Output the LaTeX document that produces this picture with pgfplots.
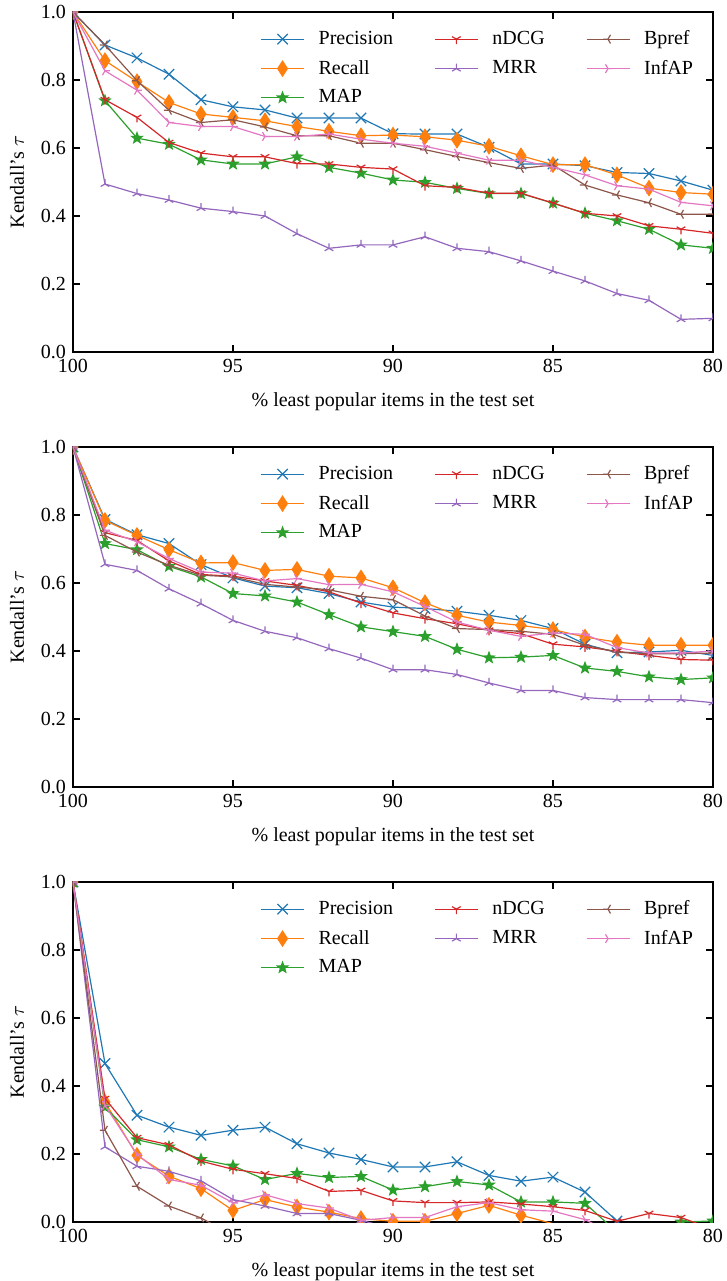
\documentclass[border=0pt]{standalone}
\usepackage{fontspec}
\setmainfont{Liberation Serif}
\usepackage{pgfplots}
\pgfplotsset{compat=1.18}
\usepackage{pgfplotstable}

\definecolor{c0}{HTML}{1F77B4}
\definecolor{c1}{HTML}{FF7F0E}
\definecolor{c2}{HTML}{2CA02C}
\definecolor{c3}{HTML}{D62728}
\definecolor{c4}{HTML}{9467BD}
\definecolor{c5}{HTML}{8C564B}
\definecolor{c6}{HTML}{E377C2}

\pgfdeclareplotmark{mx}{%
  \pgfpathmoveto{\pgfqpoint{-\pgfplotmarksize}{-\pgfplotmarksize}}%
  \pgfpathlineto{\pgfqpoint{\pgfplotmarksize}{\pgfplotmarksize}}%
  \pgfpathmoveto{\pgfqpoint{-\pgfplotmarksize}{\pgfplotmarksize}}%
  \pgfpathlineto{\pgfqpoint{\pgfplotmarksize}{-\pgfplotmarksize}}%
  \pgfusepathqstroke}
\pgfdeclareplotmark{tdia}{%
  \pgfpathmoveto{\pgfqpoint{0pt}{\pgfplotmarksize}}%
  \pgfpathlineto{\pgfqpoint{0.65\pgfplotmarksize}{0pt}}%
  \pgfpathlineto{\pgfqpoint{0pt}{-\pgfplotmarksize}}%
  \pgfpathlineto{\pgfqpoint{-0.65\pgfplotmarksize}{0pt}}%
  \pgfpathclose\pgfusepathqfillstroke}
\pgfdeclareplotmark{fstar}{%
  \pgfpathmoveto{\pgfqpoint{0pt}{\pgfplotmarksize}}%
  \pgfpathlineto{\pgfqpoint{-0.247\pgfplotmarksize}{0.340\pgfplotmarksize}}%
  \pgfpathlineto{\pgfqpoint{-0.951\pgfplotmarksize}{0.309\pgfplotmarksize}}%
  \pgfpathlineto{\pgfqpoint{-0.399\pgfplotmarksize}{-0.130\pgfplotmarksize}}%
  \pgfpathlineto{\pgfqpoint{-0.588\pgfplotmarksize}{-0.809\pgfplotmarksize}}%
  \pgfpathlineto{\pgfqpoint{0pt}{-0.42\pgfplotmarksize}}%
  \pgfpathlineto{\pgfqpoint{0.588\pgfplotmarksize}{-0.809\pgfplotmarksize}}%
  \pgfpathlineto{\pgfqpoint{0.399\pgfplotmarksize}{-0.130\pgfplotmarksize}}%
  \pgfpathlineto{\pgfqpoint{0.951\pgfplotmarksize}{0.309\pgfplotmarksize}}%
  \pgfpathlineto{\pgfqpoint{0.247\pgfplotmarksize}{0.340\pgfplotmarksize}}%
  \pgfpathclose\pgfusepathqfillstroke}
\pgfdeclareplotmark{tridown}{%
  \pgfpathmoveto{\pgfqpoint{0pt}{0pt}}\pgfpathlineto{\pgfqpoint{0pt}{-\pgfplotmarksize}}%
  \pgfpathmoveto{\pgfqpoint{0pt}{0pt}}\pgfpathlineto{\pgfqpoint{0.866\pgfplotmarksize}{0.5\pgfplotmarksize}}%
  \pgfpathmoveto{\pgfqpoint{0pt}{0pt}}\pgfpathlineto{\pgfqpoint{-0.866\pgfplotmarksize}{0.5\pgfplotmarksize}}%
  \pgfusepathqstroke}
\pgfdeclareplotmark{triup}{%
  \pgfpathmoveto{\pgfqpoint{0pt}{0pt}}\pgfpathlineto{\pgfqpoint{0pt}{\pgfplotmarksize}}%
  \pgfpathmoveto{\pgfqpoint{0pt}{0pt}}\pgfpathlineto{\pgfqpoint{0.866\pgfplotmarksize}{-0.5\pgfplotmarksize}}%
  \pgfpathmoveto{\pgfqpoint{0pt}{0pt}}\pgfpathlineto{\pgfqpoint{-0.866\pgfplotmarksize}{-0.5\pgfplotmarksize}}%
  \pgfusepathqstroke}
\pgfdeclareplotmark{trileft}{%
  \pgfpathmoveto{\pgfqpoint{0pt}{0pt}}\pgfpathlineto{\pgfqpoint{-\pgfplotmarksize}{0pt}}%
  \pgfpathmoveto{\pgfqpoint{0pt}{0pt}}\pgfpathlineto{\pgfqpoint{0.5\pgfplotmarksize}{0.866\pgfplotmarksize}}%
  \pgfpathmoveto{\pgfqpoint{0pt}{0pt}}\pgfpathlineto{\pgfqpoint{0.5\pgfplotmarksize}{-0.866\pgfplotmarksize}}%
  \pgfusepathqstroke}
\pgfdeclareplotmark{triright}{%
  \pgfpathmoveto{\pgfqpoint{0pt}{0pt}}\pgfpathlineto{\pgfqpoint{\pgfplotmarksize}{0pt}}%
  \pgfpathmoveto{\pgfqpoint{0pt}{0pt}}\pgfpathlineto{\pgfqpoint{-0.5\pgfplotmarksize}{0.866\pgfplotmarksize}}%
  \pgfpathmoveto{\pgfqpoint{0pt}{0pt}}\pgfpathlineto{\pgfqpoint{-0.5\pgfplotmarksize}{-0.866\pgfplotmarksize}}%
  \pgfusepathqstroke}

\pgfplotstableread{
x   P     R     M     N     Q     B     I
100 1.000 1.000 1.000 1.000 1.000 1.000 1.000
99  0.903 0.857 0.739 0.742 0.494 0.903 0.827
98  0.865 0.795 0.629 0.690 0.466 0.798 0.770
97  0.817 0.734 0.611 0.616 0.447 0.711 0.675
96  0.742 0.700 0.565 0.585 0.423 0.675 0.663
95  0.721 0.690 0.553 0.574 0.413 0.683 0.663
94  0.712 0.680 0.553 0.574 0.400 0.662 0.634
93  0.688 0.663 0.574 0.554 0.348 0.636 0.634
92  0.688 0.649 0.543 0.553 0.305 0.636 0.641
91  0.688 0.636 0.526 0.543 0.315 0.614 0.626
90  0.642 0.638 0.506 0.538 0.315 0.614 0.614
89  0.641 0.633 0.499 0.489 0.339 0.595 0.605
88  0.641 0.623 0.481 0.484 0.305 0.575 0.585
87  0.602 0.605 0.466 0.467 0.295 0.557 0.564
86  0.553 0.577 0.466 0.467 0.268 0.540 0.564
85  0.553 0.551 0.438 0.438 0.238 0.550 0.543
84  0.548 0.551 0.408 0.408 0.209 0.491 0.521
83  0.528 0.521 0.386 0.400 0.172 0.462 0.489
82  0.525 0.482 0.361 0.371 0.152 0.439 0.479
81  0.503 0.469 0.315 0.361 0.096 0.405 0.440
80  0.476 0.464 0.305 0.349 0.099 0.405 0.430
}\tabA

\pgfplotstableread{
x   P     R     M     N     Q     B     I
100 1.000 1.000 1.000 1.000 1.000 1.000 1.000
99  0.787 0.784 0.716 0.748 0.655 0.740 0.755
98  0.742 0.740 0.698 0.725 0.637 0.691 0.721
97  0.716 0.698 0.649 0.665 0.583 0.652 0.672
96  0.654 0.659 0.618 0.625 0.539 0.623 0.632
95  0.615 0.660 0.569 0.620 0.490 0.618 0.629
94  0.591 0.637 0.562 0.606 0.458 0.596 0.606
93  0.586 0.640 0.544 0.593 0.439 0.588 0.613
92  0.569 0.620 0.507 0.574 0.407 0.580 0.595
91  0.544 0.615 0.471 0.541 0.379 0.561 0.596
90  0.529 0.586 0.457 0.512 0.345 0.551 0.574
89  0.525 0.542 0.443 0.495 0.345 0.503 0.531
88  0.517 0.505 0.405 0.480 0.331 0.466 0.485
87  0.505 0.485 0.380 0.461 0.306 0.463 0.461
86  0.490 0.475 0.382 0.451 0.284 0.458 0.443
85  0.466 0.463 0.387 0.420 0.284 0.449 0.453
84  0.420 0.441 0.350 0.412 0.263 0.417 0.449
83  0.395 0.426 0.340 0.399 0.257 0.397 0.410
82  0.397 0.417 0.324 0.387 0.257 0.392 0.394
81  0.402 0.417 0.316 0.375 0.257 0.392 0.394
80  0.387 0.417 0.321 0.373 0.248 0.394 0.400
}\tabB

\pgfplotstableread{
x   P     R      M      N      Q      B      I
100 1.000 1.000  1.000  1.000  1.000  1.000  1.000
99  0.466 0.353  0.338  0.363  0.221  0.270  0.343
98  0.314 0.196  0.242  0.248  0.164  0.105  0.199
97  0.279 0.135  0.221  0.227  0.149  0.047  0.125
96  0.255 0.098  0.184  0.179  0.121  0.012  0.108
95  0.270 0.034  0.165  0.155  0.066  -0.040 0.056
94  0.279 0.066  0.125  0.142  0.047  nan    0.080
93  0.230 0.044  0.143  0.128  0.025  nan    0.054
92  0.203 0.029  0.131  0.090  0.025  nan    0.041
91  0.184 0.010  0.134  0.093  0.005  nan    0.005
90  0.162 0.002  0.094  0.062  -0.020 nan    0.013
89  0.162 0.002  0.104  0.057  nan    nan    0.013
88  0.177 0.025  0.119  0.057  nan    nan    0.045
87  0.137 0.049  0.109  0.059  nan    nan    0.057
86  0.120 0.020  0.059  0.053  nan    nan    0.036
85  0.132 -0.005 0.059  0.045  nan    nan    0.032
84  0.088 -0.050 0.055  0.034  nan    nan    0.007
83  0.003 nan    -0.030 0.002  nan    nan    -0.040
82  nan   nan    -0.030 0.025  nan    nan    nan
81  nan   nan    0.000  0.013  nan    nan    nan
80  nan   nan    0.003  -0.021 nan    nan    nan
}\tabC

\pgfplotsset{
  sP/.style={color=c0, mark=mx, mark size=2.6pt},
  sR/.style={color=c1, mark=tdia, mark size=3.7pt},
  sM/.style={color=c2, mark=fstar, mark size=2.7pt},
  sN/.style={color=c3, mark=tridown, mark size=2.5pt},
  sQ/.style={color=c4, mark=triup, mark size=2.5pt},
  sB/.style={color=c5, mark=trileft, mark size=2.5pt},
  sI/.style={color=c6, mark=triright, mark size=2.5pt},
  base/.style={
    width=320pt, height=170pt, scale only axis, anchor=south west,
    xmin=80, xmax=100, x dir=reverse, ymin=0, ymax=1,
    xtick={80,85,90,95,100}, ytick={0,0.2,0.4,0.6,0.8,1.0},
    yticklabel style={/pgf/number format/.cd, fixed, fixed zerofill, precision=1},
    /pgf/number format/assume math mode=true,
    tick align=inside, major tick length=3.5pt,
    axis line style={line width=0.6pt},
    every tick/.style={black, line width=0.6pt},
    clip marker paths=true,
    every axis plot/.append style={line width=0.6pt},
    tick label style={font=\fontsize{10}{12}\selectfont},
    label style={font=\fontsize{10}{12}\selectfont},
    xlabel={\% least popular items in the test set},
    ylabel={Kendall’s $\tau$},
    xlabel style={at={(axis description cs:0.5,-0.147)}, anchor=center},
    ylabel style={at={(axis description cs:-0.0875,0.5)}, anchor=center},
    legend columns=3,
    legend cell align=left,
    legend style={draw=none, fill=none, at={(axis description cs:0.985,0.97)},
      anchor=north east, font=\fontsize{10}{12}\selectfont, row sep=2.2pt,
      /tikz/every odd column/.append style={column sep=5pt},
      /tikz/every even column/.append style={column sep=18.6pt}},
    legend image code/.code={\draw[mark repeat=2,mark phase=2] plot coordinates {(0pt,0pt) (10.75pt,0pt) (21.5pt,0pt)};},
  },
}

\newcommand{\plotall}[1]{%
  \addplot[sP, forget plot] table[x=x,y=P]{#1};
  \addplot[sR, forget plot] table[x=x,y=R]{#1};
  \addplot[sM, forget plot] table[x=x,y=M]{#1};
  \addplot[sN, forget plot] table[x=x,y=N]{#1};
  \addplot[sQ, forget plot] table[x=x,y=Q]{#1};
  \addplot[sB, forget plot] table[x=x,y=B]{#1};
  \addplot[sI, forget plot] table[x=x,y=I]{#1};
  \addlegendimage{sP}\addlegendentry{Precision}
  \addlegendimage{sN}\addlegendentry{nDCG}
  \addlegendimage{sB}\addlegendentry{Bpref}
  \addlegendimage{sR}\addlegendentry{Recall}
  \addlegendimage{sQ}\addlegendentry{MRR}
  \addlegendimage{sI}\addlegendentry{InfAP}
  \addlegendimage{sM}\addlegendentry{MAP}
}

\begin{document}
\begin{tikzpicture}
\useasboundingbox (0pt,0pt) rectangle (363.5pt,640.5pt);
\begin{axis}[base, at={(36.5pt,464.5pt)}]
\plotall{\tabA}
\end{axis}
\begin{axis}[base, at={(36.5pt,247pt)}]
\plotall{\tabB}
\end{axis}
\begin{axis}[base, at={(36.5pt,29.5pt)}]
\plotall{\tabC}
\end{axis}
\end{tikzpicture}
\end{document}
